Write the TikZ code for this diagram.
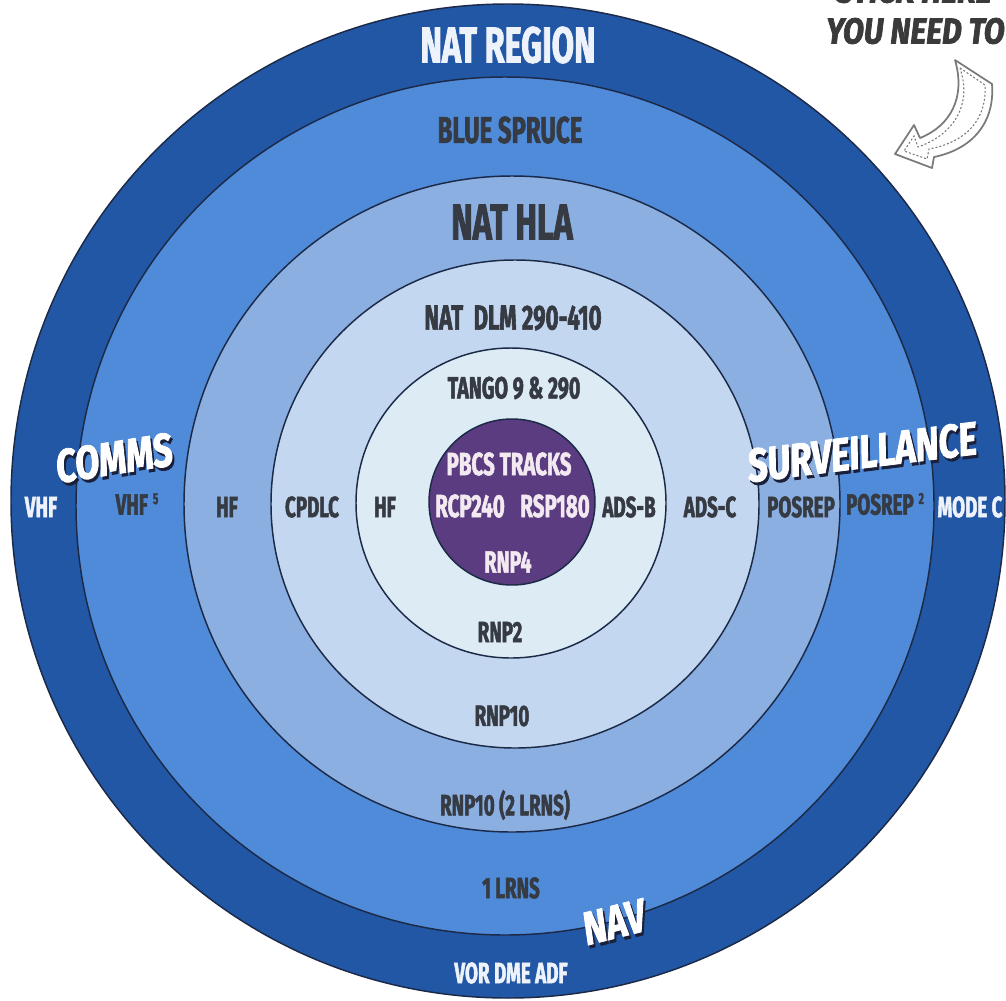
\documentclass[tikz,border=0pt]{standalone}
\usepackage{fontspec}
\newfontfamily\cond[FakeStretch=0.64, FakeBold=1.6]{Fira Sans}
\newfontfamily\slant[FakeStretch=0.76, FakeBold=1.8]{Fira Sans}
\newfontfamily\notefont[FakeStretch=0.85, FakeBold=2]{Fira Sans}
\definecolor{outerblue}{HTML}{2257A6}
\definecolor{ringone}{HTML}{4F8BD8}
\definecolor{ringtwo}{HTML}{8AAFE0}
\definecolor{ringthree}{HTML}{C3D7F0}
\definecolor{ringfour}{HTML}{DDEBF5}
\definecolor{purplecore}{HTML}{5B3C80}
\definecolor{edgeline}{HTML}{1C2A48}
\definecolor{darktext}{HTML}{363A42}
\definecolor{lighttext}{HTML}{EEF2FA}
\definecolor{pinktext}{HTML}{F3E9F0}
\definecolor{shadowc}{HTML}{1A1F3A}
\definecolor{notegray}{HTML}{3A3A3A}
\definecolor{arrowgray}{HTML}{7A7A7A}
\tikzset{
  ring/.style={draw=edgeline, line width=1.1pt},
  lbl/.style={inner sep=0pt, anchor=center, font=\cond\bfseries\fontsize{#1}{#1}\selectfont},
  dlbl/.style={lbl=#1, text=darktext},
  wlbl/.style={lbl=#1, text=lighttext},
  plbl/.style={lbl=#1, text=pinktext},
  cat/.style={inner sep=0pt, anchor=center, text=white, font=\slant\bfseries\itshape\fontsize{#1}{#1}\selectfont},
  catshadow/.style={inner sep=0pt, anchor=center, text=shadowc, font=\slant\bfseries\itshape\fontsize{#1}{#1}\selectfont},
  notetext/.style={inner sep=0pt, anchor=west, text=notegray, font=\notefont\bfseries\itshape\fontsize{27}{27}\selectfont}
}
\begin{document}
\begin{tikzpicture}[x=0.75pt, y=-0.75pt]
\useasboundingbox (0,0) rectangle (1006,1000);
\clip (0,0) rectangle (1006,1000);
\fill[white] (0,0) rectangle (1006,1000);
% rings
\filldraw[ring, fill=outerblue] (508,501) circle[radius=497];
\filldraw[ring, fill=ringone] (505,506) circle[radius=429];
\filldraw[ring, fill=ringtwo] (512,504) circle[radius=328];
\filldraw[ring, fill=ringthree] (515,504) circle[radius=244];
\filldraw[ring, fill=ringfour] (511,503) circle[radius=155];
\filldraw[ring, fill=purplecore] (512,502) circle[radius=83];
% ring titles
\node[wlbl=38] (natregion) at (508,45) {NAT REGION};
\node[dlbl=28] (bluespruce) at (510,130) {BLUE SPRUCE};
\node[dlbl=38] (nathla) at (512,222) {NAT HLA};
\node[dlbl=26] (natdlm) at (513,318) {NAT\ \ DLM 290-410};
\node[dlbl=23] (tango) at (514,388) {TANGO 9 \& 290};
% core
\node[plbl=24] (pbcs) at (509,464) {PBCS TRACKS};
\node[plbl=24] (rcp) at (470,506) {RCP240};
\node[plbl=24] (rsp) at (555,506) {RSP180};
\node[plbl=23] (rnp4) at (508,562) {RNP4};
% left row
\node[wlbl=22] (vhfout) at (41,507) {VHF};
\node[dlbl=22] (vhfin) at (137,504) {VHF\,\raisebox{8pt}{\fontsize{12}{12}\selectfont 5}};
\node[dlbl=22] (hfa) at (227,507) {HF};
\node[dlbl=22] (cpdlc) at (312,507) {CPDLC};
\node[dlbl=22] (hfb) at (385,507) {HF};
% right row
\node[dlbl=22] (adsb) at (629,507) {ADS-B};
\node[dlbl=22] (adsc) at (710,507) {ADS-C};
\node[dlbl=22] (posrepa) at (801,507) {POSREP};
\node[dlbl=22] (posrepb) at (885,504) {POSREP\,\raisebox{8pt}{\fontsize{12}{12}\selectfont 2}};
\node[wlbl=22] (modec) at (970,507) {MODE C};
% bottom column
\node[dlbl=22] (rnp2) at (500,632) {RNP2};
\node[dlbl=22] (rnp10) at (502,716) {RNP10};
\node[dlbl=22] (rnp10b) at (505,805) {RNP10 (2 LRNS)};
\node[dlbl=22] (lrns) at (511,888) {1 LRNS};
\node[wlbl=22] (vor) at (511,973) {VOR DME ADF};
% category labels
\node[catshadow=35, rotate=9] (commss) at (116,461) {COMMS};
\node[cat=35, rotate=9] (comms) at (114,458) {COMMS};
\node[catshadow=35, rotate=7] (survs) at (864,455) {SURVEILLANCE};
\node[cat=35, rotate=7] (surv) at (862,452) {SURVEILLANCE};
\node[catshadow=35, rotate=14] (navs) at (616,925) {NAV};
\node[cat=35, rotate=14] (nav) at (614,922) {NAV};
% note top right
\node[notetext] (notetop) at (836,-10) {STICK HERE};
\node[notetext] (note) at (826,31) {YOU NEED TO};
% hand drawn arrow
\filldraw[fill=white, draw=arrowgray, line width=1.3pt, line join=round]
  (955,60) -- (992,84) .. controls (995,122) and (973,149) .. (934,157)
  -- (932,168) -- (895,154) -- (914,125) -- (920,138)
  .. controls (950,126) and (966,98) .. cycle;
\draw[arrowgray, line width=0.8pt, dash pattern=on 1.5pt off 1.5pt]
  (960,68) -- (985,85) .. controls (987,119) and (967,142) .. (929,149)
  -- (927,159) -- (904,151) -- (914,136) -- (918,147)
  .. controls (955,134) and (972,104) .. cycle;
\end{tikzpicture}
\end{document}
